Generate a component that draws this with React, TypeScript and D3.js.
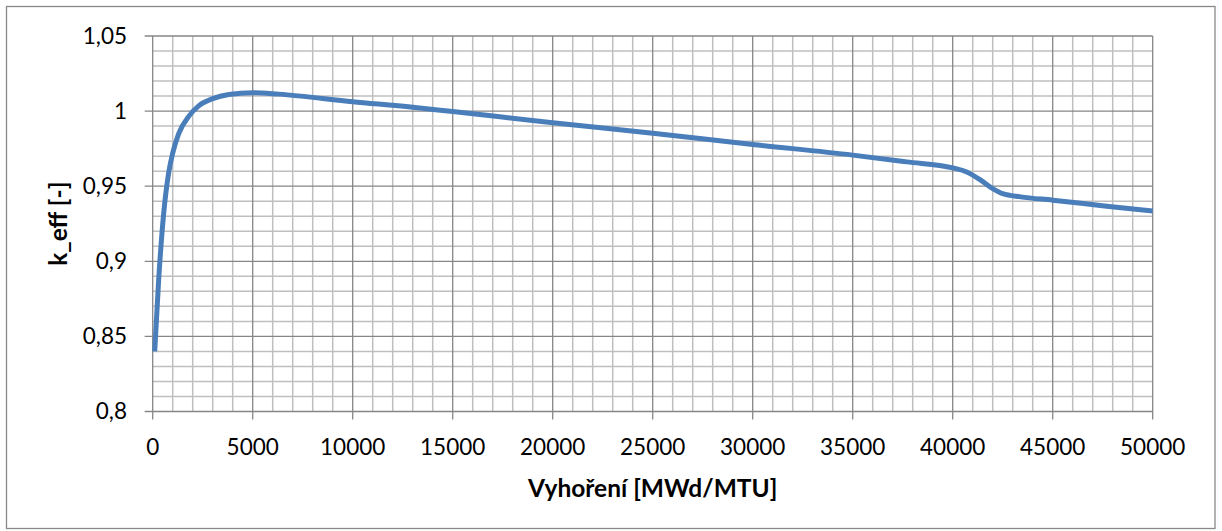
import React from "react";
import * as d3 from "d3";

// Burnup (MWd/MTU) and corresponding k_eff values
const burnup = [100, 300, 550, 800, 1000, 1300, 1800, 2300, 3000, 3800, 5000, 6300, 10000, 13000, 15000, 20000, 25000, 30000, 35000, 37700, 40000, 40700, 41400, 42000, 42500, 43400, 45000, 47700, 50000];
const keff = [0.840, 0.888, 0.932, 0.959, 0.972, 0.985, 0.9965, 1.0035, 1.0083, 1.0111, 1.0123, 1.0113, 1.0063, 1.0026, 0.9997, 0.9923, 0.9853, 0.9778, 0.9707, 0.9662, 0.9622, 0.9595, 0.954, 0.9484, 0.945, 0.9429, 0.9407, 0.9367, 0.9335];

const xTicks = [0, 5000, 10000, 15000, 20000, 25000, 30000, 35000, 40000, 45000, 50000];
const yTicks = [0.8, 0.85, 0.9, 0.95, 1.0, 1.05];
const xTitle = "Vyhoření [MWd/MTU]";
const yTitle = "k_eff [-]";

const W = 1222;
const H = 531;
const left = 152.7;
const right = 1152.7;
const top = 36;
const bottom = 411.5;
const font = "Lato, 'Open Sans', sans-serif";

export default function App() {
  const x = d3.scaleLinear().domain([0, 50000]).range([left, right]);
  const y = d3.scaleLinear().domain([0.8, 1.05]).range([bottom, top]);

  const minorX = d3.range(0, 50001, 1000).filter((v) => v % 5000 !== 0);
  const minorY = d3.range(0, 26).map((i) => 0.8 + i * 0.01).filter((_, i) => i % 5 !== 0);

  const pts: [number, number][] = burnup.map((b, i) => [b, keff[i]]);
  const line = d3
    .line<[number, number]>()
    .x((d) => x(d[0]))
    .y((d) => y(d[1]))
    .curve(d3.curveMonotoneX);

  // Czech decimal comma on the value axis
  const yLabel = (v: number) => {
    const r = Math.round(v * 100) / 100;
    return r.toString().replace(".", ",");
  };

  const minorColor = "#bfbfbf";
  const majorColor = "#868686";

  return (
    <div style={{ position: "absolute", left: 0, top: 0 }}>
      <svg width={W} height={H} style={{ display: "block", background: "#fff" }}>
        <rect x={6.5} y={6.5} width={1208.5} height={522} fill="#fff" stroke="#888" strokeWidth={1.3} />

        {minorX.map((v) => (
          <line key={"mx" + v} x1={x(v)} x2={x(v)} y1={top} y2={bottom} stroke={minorColor} strokeWidth={1.5} />
        ))}
        {minorY.map((v, i) => (
          <line key={"my" + i} x1={left} x2={right} y1={y(v)} y2={y(v)} stroke={minorColor} strokeWidth={1.5} />
        ))}
        {xTicks.map((v) => (
          <line key={"gx" + v} x1={x(v)} x2={x(v)} y1={top} y2={bottom + 8} stroke={majorColor} strokeWidth={1.3} />
        ))}
        {yTicks.map((v) => (
          <line key={"gy" + v} x1={left - 8} x2={right} y1={y(v)} y2={y(v)} stroke={majorColor} strokeWidth={1.3} />
        ))}

        <path d={line(pts) || ""} fill="none" stroke="#4a7ebb" strokeWidth={5} strokeLinejoin="round" strokeLinecap="butt" />

        {yTicks.map((v) => (
          <text key={"ty" + v} x={127} y={y(v)} dy="0.35em" textAnchor="end" fontFamily={font} fontSize={22.5} fill="#000">
            {yLabel(v)}
          </text>
        ))}
        {xTicks.map((v) => (
          <text key={"tx" + v} x={x(v)} y={447} dy="0.35em" textAnchor="middle" fontFamily={font} fontSize={22.5} fill="#000">
            {v}
          </text>
        ))}

        <text x={(left + right) / 2} y={488} dy="0.35em" textAnchor="middle" fontFamily={font} fontWeight="bold" fontSize={24.5} fill="#000">
          {xTitle}
        </text>
        <text
          transform={`translate(58, ${(top + bottom) / 2}) rotate(-90)`}
          dy="0.35em"
          textAnchor="middle"
          fontFamily={font}
          fontWeight="bold"
          fontSize={24.5}
          fill="#000"
        >
          {yTitle}
        </text>
      </svg>
    </div>
  );
}
